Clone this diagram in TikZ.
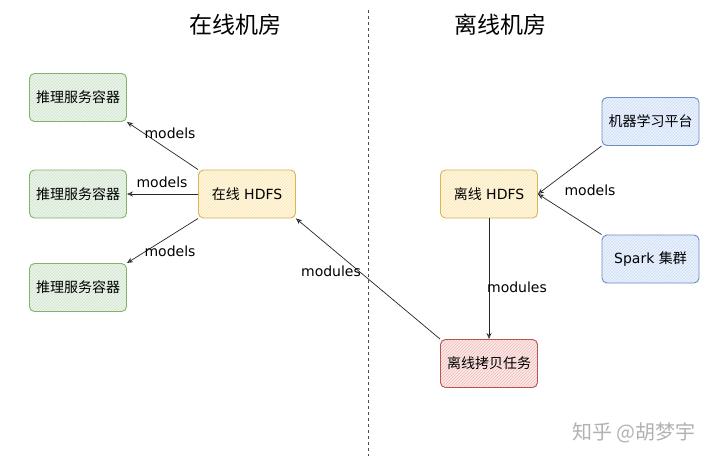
\documentclass[tikz,border=0pt]{standalone}
\usepackage{fontspec}
\setmainfont{DejaVu Sans}
\newfontfamily\cjk{Noto Sans CJK SC}
\usetikzlibrary{arrows.meta,patterns}
\definecolor{gB}{HTML}{82B366}\definecolor{gF}{HTML}{D5E8D4}
\definecolor{yB}{HTML}{D6B656}\definecolor{yF}{HTML}{FFF2CC}
\definecolor{bB}{HTML}{6C8EBF}\definecolor{bF}{HTML}{DAE8FC}
\definecolor{rB}{HTML}{B85450}\definecolor{rF}{HTML}{F8CECC}
\tikzset{
  box/.style={rounded corners=5pt, minimum width=97pt, minimum height=48pt, line width=0.9pt, font=\fontsize{14}{16}\selectfont, inner sep=0pt},
  gbox/.style={box, draw=gB, preaction={fill=gF!45}, pattern=north east lines, pattern color=gF!90!gB},
  ybox/.style={box, draw=yB, preaction={fill=yF!60}, pattern=north east lines, pattern color=yF!80!yB},
  bbox/.style={box, draw=bB, preaction={fill=bF!50}, pattern=north east lines, pattern color=bF!85!bB},
  rbox/.style={box, draw=rB, preaction={fill=rF!45}, pattern=north east lines, pattern color=rF!85!rB},
  conn/.style={-{Stealth[open,length=6pt,width=5pt]}, line width=0.7pt, black!85},
  lbl/.style={font=\fontsize{14}{16}\selectfont, inner sep=1pt},
  ttl/.style={font=\cjk\fontsize{23}{26}\selectfont}
}
\begin{document}
\begin{tikzpicture}[x=1pt,y=-1pt]
\path[use as bounding box, fill=white] (0,0) rectangle (720,464);
\node[ttl] (t1) at (235,25) {在线机房};
\node[ttl] (t2) at (500,25) {离线机房};
\coordinate (dtop) at (368,10);
\coordinate (dbot) at (368,456);
\draw[dashed, line width=0.8pt, black!70, dash pattern=on 3pt off 3pt] (dtop) -- (dbot);

\node[gbox] (g1) at (78,97.5) {\cjk 推理服务容器};
\node[gbox] (g2) at (78,194) {\cjk 推理服务容器};
\node[gbox] (g3) at (78,287.5) {\cjk 推理服务容器};
\node[ybox] (on) at (247,194) {{\cjk 在线} HDFS};
\node[ybox] (off) at (489,194) {{\cjk 离线} HDFS};
\node[bbox] (ml) at (650.5,121.5) {\cjk 机器学习平台};
\node[bbox] (sp) at (650.5,259) {Spark {\cjk 集群}};
\node[rbox] (cp) at (489,363.5) {\cjk 离线拷贝任务};

\draw[conn] (on.north west) -- (g1.south east);
\draw[conn] (on.west) -- (g2.east);
\draw[conn] (on.south west) -- (g3.north east);
\draw[conn] (cp.north west) -- (on.south east);
\draw[conn] (off.south) -- (cp.north);
\draw[conn] (ml.south west) -- (off.east);
\draw[conn] (sp.north west) -- (off.east);

\node[lbl] (l1) at (170,133) {models};
\node[lbl] (l2) at (162,182) {models};
\node[lbl] (l3) at (170,251) {models};
\node[lbl] (l4) at (331,271) {modules};
\node[lbl] (l5) at (517,287) {modules};
\node[lbl] (l6) at (590,190) {models};
\node[font=\cjk\fontsize{20}{22}\selectfont, text=black!30] (wm) at (634,433) {知乎 @胡梦宇};
\end{tikzpicture}
\end{document}
